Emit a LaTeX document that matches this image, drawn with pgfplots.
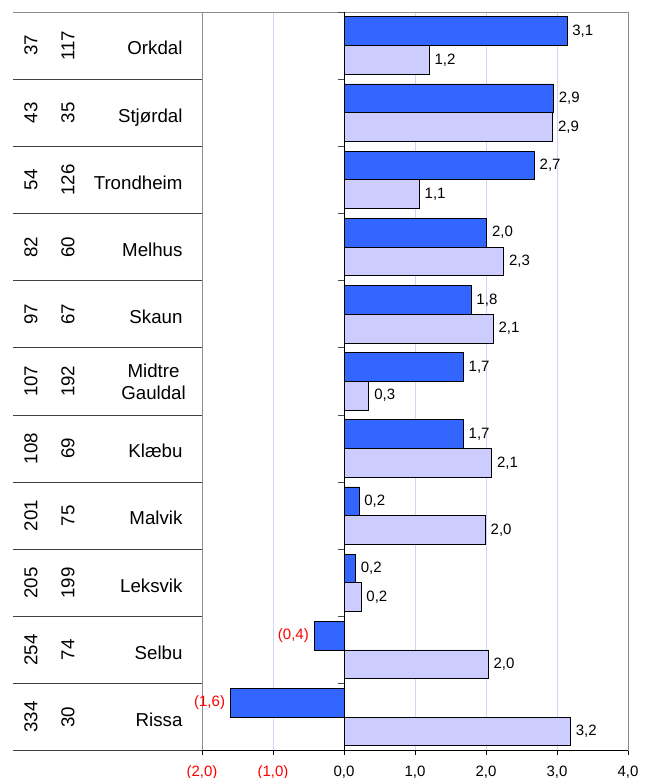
\documentclass[border=0pt]{standalone}
\usepackage{pgfplots}
\pgfplotsset{compat=1.18}
\usepackage{pgfplotstable}
\usepackage{fontspec}
\setmainfont{Liberation Sans}
\definecolor{darkbar}{HTML}{3366FF}
\definecolor{lightbar}{HTML}{CCCCFF}
\definecolor{gridc}{HTML}{D2D2FA}
\definecolor{framec}{HTML}{8C8C8C}
\definecolor{tablec}{HTML}{404040}
\definecolor{redl}{HTML}{FF0000}
\protected\def\negl#1{\textcolor{redl}{(#1)}}
\newcommand\tablefont{\fontsize{18.7}{22}\selectfont}
\newcommand\labelfont{\fontsize{15}{18}\selectfont}

% y: category position (Orkdal at top = 10)
\pgfplotstableread{
y a alab b blab
10 3.14 3,1 1.20 1,2
9 2.95 2,9 2.94 2,9
8 2.68 2,7 1.06 1,1
7 2.01 2,0 2.25 2,3
6 1.79 1,8 2.10 2,1
5 1.68 1,7 0.35 0,3
4 1.68 1,7 2.08 2,1
3 0.21 0,2 1.99 2,0
2 0.16 0,2 0.24 0,2
1 -0.42 \negl{0,4} 2.03 2,0
0 -1.60 \negl{1,6} 3.19 3,2
}\datatable

\begin{document}
\begin{tikzpicture}
\useasboundingbox (0pt,0pt) rectangle (652pt,778pt);
\begin{axis}[
  at={(202pt,27.3pt)}, anchor=south west,
  width=426pt, height=738.7pt, scale only axis,
  xbar, clip=false,
  xmin=-2, xmax=4, ymin=-0.5, ymax=10.5,
  axis line style={draw=none},
  xtick={-2,-1,0,1,2,3,4},
  xticklabels={{\color{redl}(2,0)},{\color{redl}(1,0)},{0,0},{1,0},{2,0},{3,0},{4,0}},
  xticklabel style={font=\labelfont, anchor=base, yshift=-22pt, inner sep=0pt, outer sep=0pt},
  ytick=\empty,
  tick align=outside, xtick pos=bottom,
  major tick length=4pt,
  tick style={black, line width=0.8pt},
  xmajorgrids, grid style={gridc, line width=0.8pt},
  bar width=0.428,
  nodes near coords,
  point meta=explicit symbolic,
  visualization depends on={rawx \as \rawx},
  every node near coord/.append style={font=\labelfont, black, inner sep=5pt},
  every node near coord/.append code={%
    \ifdim\rawx pt<0pt \pgfkeysalso{anchor=east}\else\pgfkeysalso{anchor=west}\fi},
]
\addplot[draw=black, line width=0.8pt, fill=darkbar, bar shift=0.214]
  table[x=a, y=y, meta=alab] {\datatable};
\addplot[draw=black, line width=0.8pt, fill=lightbar, bar shift=-0.214]
  table[x=b, y=y, meta=blab] {\datatable};

% frame
\draw[framec, line width=0.8pt] (axis cs:-2,-0.5) -- (axis cs:-2,10.5) -- (axis cs:4,10.5) -- (axis cs:4,-0.5);
\draw[framec, line width=0.8pt] (axis cs:-2,10.5) -- ++(-189pt,0pt);
\draw[black, line width=0.8pt] (axis cs:-2,-0.5) -- (axis cs:4,-0.5);
\draw[tablec, line width=0.8pt] (axis cs:-2,-0.5) -- ++(-189pt,0pt);
% y axis at zero with boundary ticks
\draw[black, line width=0.8pt] (axis cs:0,-0.5) -- (axis cs:0,10.5);
\pgfplotsinvokeforeach{0.5,1.5,2.5,3.5,4.5,5.5,6.5,7.5,8.5,9.5}{
  \draw[tablec, line width=0.8pt] (axis cs:-2,#1) -- ++(-189pt,0pt);
  \draw[black!70, line width=0.8pt] (axis cs:0,#1) -- ++(-6pt,0pt);
}
\draw[black!70, line width=0.8pt] (axis cs:0,10.5) -- ++(-6pt,0pt);

% table: names
\node[anchor=base east, font=\tablefont] at ([xshift=-16pt, yshift=-9.3pt]axis cs:-2,10) {Orkdal};
\node[anchor=base east, font=\tablefont] at ([xshift=-16pt, yshift=-9.3pt]axis cs:-2,9) {Stjørdal};
\node[anchor=base east, font=\tablefont] at ([xshift=-16pt, yshift=-9.3pt]axis cs:-2,8) {Trondheim};
\node[anchor=base east, font=\tablefont] at ([xshift=-16pt, yshift=-9.3pt]axis cs:-2,7) {Melhus};
\node[anchor=base east, font=\tablefont] at ([xshift=-16pt, yshift=-9.3pt]axis cs:-2,6) {Skaun};
\node[anchor=east, align=center, font=\tablefont, inner sep=0pt] at ([xshift=-16pt]axis cs:-2,5) {Midtre\\Gauldal};
\node[anchor=base east, font=\tablefont] at ([xshift=-16pt, yshift=-9.3pt]axis cs:-2,4) {Klæbu};
\node[anchor=base east, font=\tablefont] at ([xshift=-16pt, yshift=-9.3pt]axis cs:-2,3) {Malvik};
\node[anchor=base east, font=\tablefont] at ([xshift=-16pt, yshift=-9.3pt]axis cs:-2,2) {Leksvik};
\node[anchor=base east, font=\tablefont] at ([xshift=-16pt, yshift=-9.3pt]axis cs:-2,1) {Selbu};
\node[anchor=base east, font=\tablefont] at ([xshift=-16pt, yshift=-9.3pt]axis cs:-2,0) {Rissa};

% table: rotated number columns
\node[rotate=90, font=\tablefont] at ([xshift=-171pt]axis cs:-2,10) {37};
\node[rotate=90, font=\tablefont] at ([xshift=-134pt]axis cs:-2,10) {117};
\node[rotate=90, font=\tablefont] at ([xshift=-171pt]axis cs:-2,9) {43};
\node[rotate=90, font=\tablefont] at ([xshift=-134pt]axis cs:-2,9) {35};
\node[rotate=90, font=\tablefont] at ([xshift=-171pt]axis cs:-2,8) {54};
\node[rotate=90, font=\tablefont] at ([xshift=-134pt]axis cs:-2,8) {126};
\node[rotate=90, font=\tablefont] at ([xshift=-171pt]axis cs:-2,7) {82};
\node[rotate=90, font=\tablefont] at ([xshift=-134pt]axis cs:-2,7) {60};
\node[rotate=90, font=\tablefont] at ([xshift=-171pt]axis cs:-2,6) {97};
\node[rotate=90, font=\tablefont] at ([xshift=-134pt]axis cs:-2,6) {67};
\node[rotate=90, font=\tablefont] at ([xshift=-171pt]axis cs:-2,5) {107};
\node[rotate=90, font=\tablefont] at ([xshift=-134pt]axis cs:-2,5) {192};
\node[rotate=90, font=\tablefont] at ([xshift=-171pt]axis cs:-2,4) {108};
\node[rotate=90, font=\tablefont] at ([xshift=-134pt]axis cs:-2,4) {69};
\node[rotate=90, font=\tablefont] at ([xshift=-171pt]axis cs:-2,3) {201};
\node[rotate=90, font=\tablefont] at ([xshift=-134pt]axis cs:-2,3) {75};
\node[rotate=90, font=\tablefont] at ([xshift=-171pt]axis cs:-2,2) {205};
\node[rotate=90, font=\tablefont] at ([xshift=-134pt]axis cs:-2,2) {199};
\node[rotate=90, font=\tablefont] at ([xshift=-171pt]axis cs:-2,1) {254};
\node[rotate=90, font=\tablefont] at ([xshift=-134pt]axis cs:-2,1) {74};
\node[rotate=90, font=\tablefont] at ([xshift=-171pt]axis cs:-2,0) {334};
\node[rotate=90, font=\tablefont] at ([xshift=-134pt]axis cs:-2,0) {30};
\end{axis}
\end{tikzpicture}
\end{document}
